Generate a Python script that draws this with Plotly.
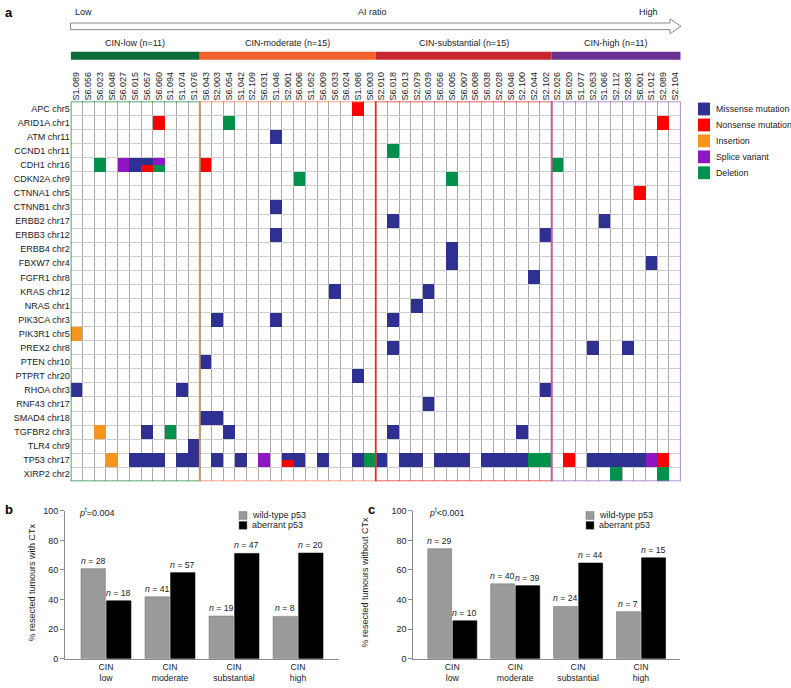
import plotly.graph_objects as go

# ---- data ----
samples = ["S1.089", "S6.056", "S6.023", "S6.048", "S6.027", "S6.015", "S6.057", "S6.060", "S1.094", "S1.074", "S1.076",
           "S6.043", "S2.003", "S6.054", "S1.042", "S2.109", "S6.031", "S1.046", "S2.001", "S6.006", "S1.052", "S6.009",
           "S6.033", "S6.024", "S1.086", "S6.003",
           "S2.010", "S6.018", "S6.013", "S2.079", "S6.039", "S6.056", "S6.005", "S6.007", "S6.008", "S6.038", "S2.028",
           "S6.046", "S2.100", "S2.044", "S2.102",
           "S2.026", "S6.020", "S1.077", "S2.053", "S1.066", "S2.112", "S2.083", "S6.001", "S1.012", "S2.089", "S2.104"]
group_names = ["CIN-low (n=11)", "CIN-moderate (n=15)", "CIN-substantial (n=15)", "CIN-high (n=11)"]
group_sizes = [11, 15, 15, 11]
group_bar_colors = ["#0a6b36", "#f2622e", "#c8272f", "#6b2f91"]
group_box_colors = ["#1f8a47", "#f5825c", "#dc2f2c", "#9a6bc0"]

genes = ["APC chr5", "ARID1A chr1", "ATM chr11", "CCND1 chr11", "CDH1 chr16", "CDKN2A chr9", "CTNNA1 chr5",
         "CTNNB1 chr3", "ERBB2 chr17", "ERBB3 chr12", "ERBB4 chr2", "FBXW7 chr4", "FGFR1 chr8", "KRAS chr12",
         "NRAS chr1", "PIK3CA chr3", "PIK3R1 chr5", "PREX2 chr8", "PTEN chr10", "PTPRT chr20", "RHOA chr3",
         "RNF43 chr17", "SMAD4 chr18", "TGFBR2 chr3", "TLR4 chr9", "TP53 chr17", "XIRP2 chr2"]

mut_types = ["Missense mutation", "Nonsense mutation", "Insertion", "Splice variant", "Deletion"]
mut_colors = ["#2e3192", "#ff0000", "#f7941d", "#8e16c4", "#00924a"]

# (gene, sample column, type code: M/N/I/S/D, "A/B" = top/bottom split)
mutations = [
    ("APC chr5", 24, "N"),
    ("ARID1A chr1", 7, "N"), ("ARID1A chr1", 13, "D"), ("ARID1A chr1", 50, "N"),
    ("ATM chr11", 17, "M"),
    ("CCND1 chr11", 27, "D"),
    ("CDH1 chr16", 2, "D"), ("CDH1 chr16", 4, "S"), ("CDH1 chr16", 5, "M"), ("CDH1 chr16", 6, "M/N"),
    ("CDH1 chr16", 7, "S/D"), ("CDH1 chr16", 11, "N"), ("CDH1 chr16", 41, "D"),
    ("CDKN2A chr9", 19, "D"), ("CDKN2A chr9", 32, "D"),
    ("CTNNA1 chr5", 48, "N"),
    ("CTNNB1 chr3", 17, "M"),
    ("ERBB2 chr17", 27, "M"), ("ERBB2 chr17", 45, "M"),
    ("ERBB3 chr12", 17, "M"), ("ERBB3 chr12", 40, "M"),
    ("ERBB4 chr2", 32, "M"),
    ("FBXW7 chr4", 32, "M"), ("FBXW7 chr4", 49, "M"),
    ("FGFR1 chr8", 39, "M"),
    ("KRAS chr12", 22, "M"), ("KRAS chr12", 30, "M"),
    ("NRAS chr1", 29, "M"),
    ("PIK3CA chr3", 12, "M"), ("PIK3CA chr3", 17, "M"), ("PIK3CA chr3", 27, "M"),
    ("PIK3R1 chr5", 0, "I"),
    ("PREX2 chr8", 27, "M"), ("PREX2 chr8", 44, "M"), ("PREX2 chr8", 47, "M"),
    ("PTEN chr10", 11, "M"),
    ("PTPRT chr20", 24, "M"),
    ("RHOA chr3", 0, "M"), ("RHOA chr3", 9, "M"), ("RHOA chr3", 40, "M"),
    ("RNF43 chr17", 30, "M"),
    ("SMAD4 chr18", 11, "M"), ("SMAD4 chr18", 12, "M"),
    ("TGFBR2 chr3", 2, "I"), ("TGFBR2 chr3", 6, "M"), ("TGFBR2 chr3", 8, "D"), ("TGFBR2 chr3", 13, "M"),
    ("TGFBR2 chr3", 27, "M"), ("TGFBR2 chr3", 38, "M"),
    ("TLR4 chr9", 10, "M"),
    ("TP53 chr17", 3, "I"), ("TP53 chr17", 5, "M"), ("TP53 chr17", 6, "M"), ("TP53 chr17", 7, "M"),
    ("TP53 chr17", 9, "M"), ("TP53 chr17", 10, "M"), ("TP53 chr17", 12, "M"), ("TP53 chr17", 14, "M"),
    ("TP53 chr17", 16, "S"), ("TP53 chr17", 18, "M/N"), ("TP53 chr17", 19, "M"), ("TP53 chr17", 21, "M"),
    ("TP53 chr17", 24, "M"), ("TP53 chr17", 25, "D"), ("TP53 chr17", 26, "M"), ("TP53 chr17", 28, "M"),
    ("TP53 chr17", 29, "M"), ("TP53 chr17", 31, "M"), ("TP53 chr17", 32, "M"), ("TP53 chr17", 33, "M"),
    ("TP53 chr17", 35, "M"), ("TP53 chr17", 36, "M"), ("TP53 chr17", 37, "M"), ("TP53 chr17", 38, "M"),
    ("TP53 chr17", 39, "D"), ("TP53 chr17", 40, "D"), ("TP53 chr17", 42, "N"), ("TP53 chr17", 44, "M"),
    ("TP53 chr17", 45, "M"), ("TP53 chr17", 46, "M"), ("TP53 chr17", 47, "M"), ("TP53 chr17", 48, "M"),
    ("TP53 chr17", 49, "S"), ("TP53 chr17", 50, "N"),
    ("XIRP2 chr2", 46, "D"), ("XIRP2 chr2", 50, "D"),
]

cin_cats = ["CIN<br>low", "CIN<br>moderate", "CIN<br>substantial", "CIN<br>high"]
b_wild = [60.9, 41.8, 28.8, 28.6]
b_aber = [39.1, 58.2, 71.2, 71.4]
b_wild_n = [28, 41, 19, 8]
b_aber_n = [18, 57, 47, 20]
c_wild = [74.4, 50.6, 35.3, 31.8]
c_aber = [25.6, 49.4, 64.7, 68.2]
c_wild_n = [29, 40, 24, 7]
c_aber_n = [10, 39, 44, 15]

# ---- helpers ----
W, H = 791, 688
FONT = "Liberation Sans, Arial, sans-serif"
TXT = "#222222"


def px(x):
    return x / W


def py(y):
    return 1 - y / H


code = {"M": 1, "N": 2, "I": 3, "S": 4, "D": 5}

# heatmap on half rows so split cells can be shown
n_s, n_g = len(samples), len(genes)
z = [[None] * n_s for _ in range(2 * n_g)]
for g, s, t in mutations:
    gi = genes.index(g)
    parts = t.split("/")
    top, bot = (parts[0], parts[0]) if len(parts) == 1 else parts
    z[2 * gi][s] = code[top]
    z[2 * gi + 1][s] = code[bot]
y_half = [gi + d for gi in range(n_g) for d in (-0.25, 0.25)]

cs = []
for i, c in enumerate(mut_colors):
    cs += [[i / 5, c], [(i + 1) / 5, c]]

fig = go.Figure()
fig.add_trace(go.Heatmap(
    x=list(range(n_s)), y=y_half, z=z, colorscale=cs, zmin=0.5, zmax=5.5,
    showscale=False, hoverinfo="skip", xaxis="x", yaxis="y",
))

# bar panels
for xa, ya, wild, aber in [("x2", "y2", b_wild, b_aber), ("x3", "y3", c_wild, c_aber)]:
    fig.add_trace(go.Bar(x=cin_cats, y=wild, marker=dict(color="#9a9a9a", line=dict(color="#7a7a7a", width=0.6)),
                         xaxis=xa, yaxis=ya, showlegend=False))
    fig.add_trace(go.Bar(x=cin_cats, y=aber, marker=dict(color="#000000", line=dict(color="#000000", width=0.6)),
                         xaxis=xa, yaxis=ya, showlegend=False))

shapes = []
annotations = []

# group boxes, bars and labels
start = 0
for name, size, bc, oc in zip(group_names, group_sizes, group_bar_colors, group_box_colors):
    x0, x1 = start - 0.5, start + size - 0.5
    shapes.append(dict(type="rect", xref="x", yref="y", x0=x0, x1=x1, y0=-0.5, y1=n_g - 0.5,
                       line=dict(color=oc, width=1.6), fillcolor="rgba(0,0,0,0)", layer="above"))
    shapes.append(dict(type="rect", xref="x", yref="paper", x0=x0, x1=x1, y0=py(55.5), y1=py(47.5),
                       line=dict(width=0), fillcolor=bc))
    annotations.append(dict(x=(x0 + x1) / 2, y=py(38.5), xref="x", yref="paper", text=name, showarrow=False,
                            font=dict(size=9, color=TXT), xanchor="center", yanchor="middle"))
    start += size

# AI ratio arrow
pts = [(70.5, 18.3), (670, 18.3), (670, 14), (681, 21.6), (670, 29.3), (670, 25), (70.5, 25)]
path = "M " + " L ".join(f"{px(a):.5f},{py(b):.5f}" for a, b in pts) + " Z"
shapes.append(dict(type="path", xref="paper", yref="paper", path=path, fillcolor="white",
                   line=dict(color="#8a8a8a", width=1)))
annotations += [
    dict(x=px(73), y=py(7.5), text="Low", xanchor="left"),
    dict(x=px(372), y=py(7.5), text="AI ratio", xanchor="center"),
    dict(x=px(660), y=py(7.5), text="High", xanchor="right"),
]
for a in annotations[-3:]:
    a.update(xref="paper", yref="paper", showarrow=False, yanchor="middle", font=dict(size=9, color=TXT))

# mutation legend
for i, (lab, col) in enumerate(zip(mut_types, mut_colors)):
    yc = 105.5 + i * 16.2
    shapes.append(dict(type="rect", xref="paper", yref="paper", x0=px(698), x1=px(710), y0=py(yc + 6.5),
                       y1=py(yc - 6.5), fillcolor=col, line=dict(width=0)))
    annotations.append(dict(x=px(714), y=py(yc), xref="paper", yref="paper", text=lab, showarrow=False,
                            xanchor="left", yanchor="middle", font=dict(size=8.8, color=TXT)))

# panel letters
for lab, x, y in [("a", 3, 8), ("b", 3, 512), ("c", 366, 512)]:
    annotations.append(dict(x=px(x), y=py(y), xref="paper", yref="paper", text=f"<b>{lab}</b>", showarrow=False,
                            xanchor="left", yanchor="middle", font=dict(size=13, color="#000")))

# bar panel annotations
for xa, ya, wn, an, wv, av, ptxt, px0, leg_x, ytitle, tx in [
    ("x2", "y2", b_wild_n, b_aber_n, b_wild, b_aber, "=0.004", 77, 239, "% resected tumours with CTx", 32),
    ("x3", "y3", c_wild_n, c_aber_n, c_wild, c_aber, "<0.001", 427, 586, "% resected tumours without CTx", 365),
]:
    for i in range(4):
        annotations.append(dict(x=i - 0.2, y=wv[i], xref=xa, yref=ya, text=f"<i>n</i> = {wn[i]}", showarrow=False,
                                yanchor="bottom", yshift=1, font=dict(size=8.7, color=TXT)))
        annotations.append(dict(x=i + 0.2, y=av[i], xref=xa, yref=ya, text=f"<i>n</i> = {an[i]}", showarrow=False,
                                yanchor="bottom", yshift=1, font=dict(size=8.7, color=TXT)))
    annotations.append(dict(x=px(px0), y=py(514), xref="paper", yref="paper", text=f"<i>p</i><sup>t</sup>{ptxt}",
                            showarrow=False, xanchor="left", yanchor="middle", font=dict(size=9, color=TXT)))
    annotations.append(dict(x=px(tx), y=py(586), xref="paper", yref="paper", text=ytitle, textangle=-90,
                            showarrow=False, xanchor="center", yanchor="middle", font=dict(size=9, color=TXT)))
    for j, (lab, col) in enumerate([("wild-type p53", "#9a9a9a"), ("aberrant p53", "#000000")]):
        yc = 518 + j * 10
        shapes.append(dict(type="rect", xref="paper", yref="paper", x0=px(leg_x), x1=px(leg_x + 8),
                           y0=py(yc + 4), y1=py(yc - 4), fillcolor=col, line=dict(color="#777", width=0.5)))
        annotations.append(dict(x=px(leg_x + 11), y=py(yc), xref="paper", yref="paper", text=lab,
                                showarrow=False, xanchor="left", yanchor="middle", font=dict(size=9, color=TXT)))

bar_x = dict(type="category", showline=True, linecolor="#8a8a8a", linewidth=1, ticks="", showgrid=False,
             tickfont=dict(size=8.7, color=TXT), zeroline=False)
bar_y = dict(range=[0, 100], tickvals=[0, 20, 40, 60, 80, 100], showline=True, linecolor="#8a8a8a", linewidth=1,
             ticks="outside", ticklen=4, tickcolor="#8a8a8a", showgrid=False, zeroline=False,
             tickfont=dict(size=9, color=TXT))

fig.update_layout(
    width=W, height=H,
    margin=dict(l=0, r=0, t=0, b=0),
    paper_bgcolor="white", plot_bgcolor="white",
    font=dict(family=FONT, size=9, color=TXT),
    showlegend=False,
    barmode="group", bargap=0.2, bargroupgap=0.05,
    xaxis=dict(domain=[px(70.7), px(680.7)], range=[-0.5, n_s - 0.5], side="top",
               tickmode="array", tickvals=list(range(n_s)), ticktext=samples, tickangle=-90,
               tickfont=dict(size=9, color=TXT), ticks="", showgrid=False, zeroline=False,
               minor=dict(tickmode="array", tickvals=[i - 0.5 for i in range(n_s + 1)], showgrid=True,
                          gridcolor="#a9a9a9", gridwidth=0.8, ticks="")),
    yaxis=dict(domain=[py(483.4), py(97.9)], range=[n_g - 0.5, -0.5],
               tickmode="array", tickvals=list(range(n_g)), ticktext=genes,
               tickfont=dict(size=9, color=TXT), ticks="", showgrid=False, zeroline=False,
               minor=dict(tickmode="array", tickvals=[i - 0.5 for i in range(n_g + 1)], showgrid=True,
                          gridcolor="#cdcdcd", gridwidth=1.4, ticks="")),
    xaxis2=dict(domain=[px(65), px(339)], range=[-0.64, 3.64], anchor="y2", **bar_x),
    yaxis2=dict(domain=[py(663.3), py(513.3)], anchor="x2", **bar_y),
    xaxis3=dict(domain=[px(413.3), px(680)], range=[-0.62, 3.62], anchor="y3", **bar_x),
    yaxis3=dict(domain=[py(663.3), py(513.3)], anchor="x3", **bar_y),
    shapes=shapes,
    annotations=annotations,
)

# page body has a default 8px margin; remove it so the figure sits at the window origin
fig.write_html("out.html", config={"displayModeBar": False},
               post_script="document.body.style.margin='0px';")
